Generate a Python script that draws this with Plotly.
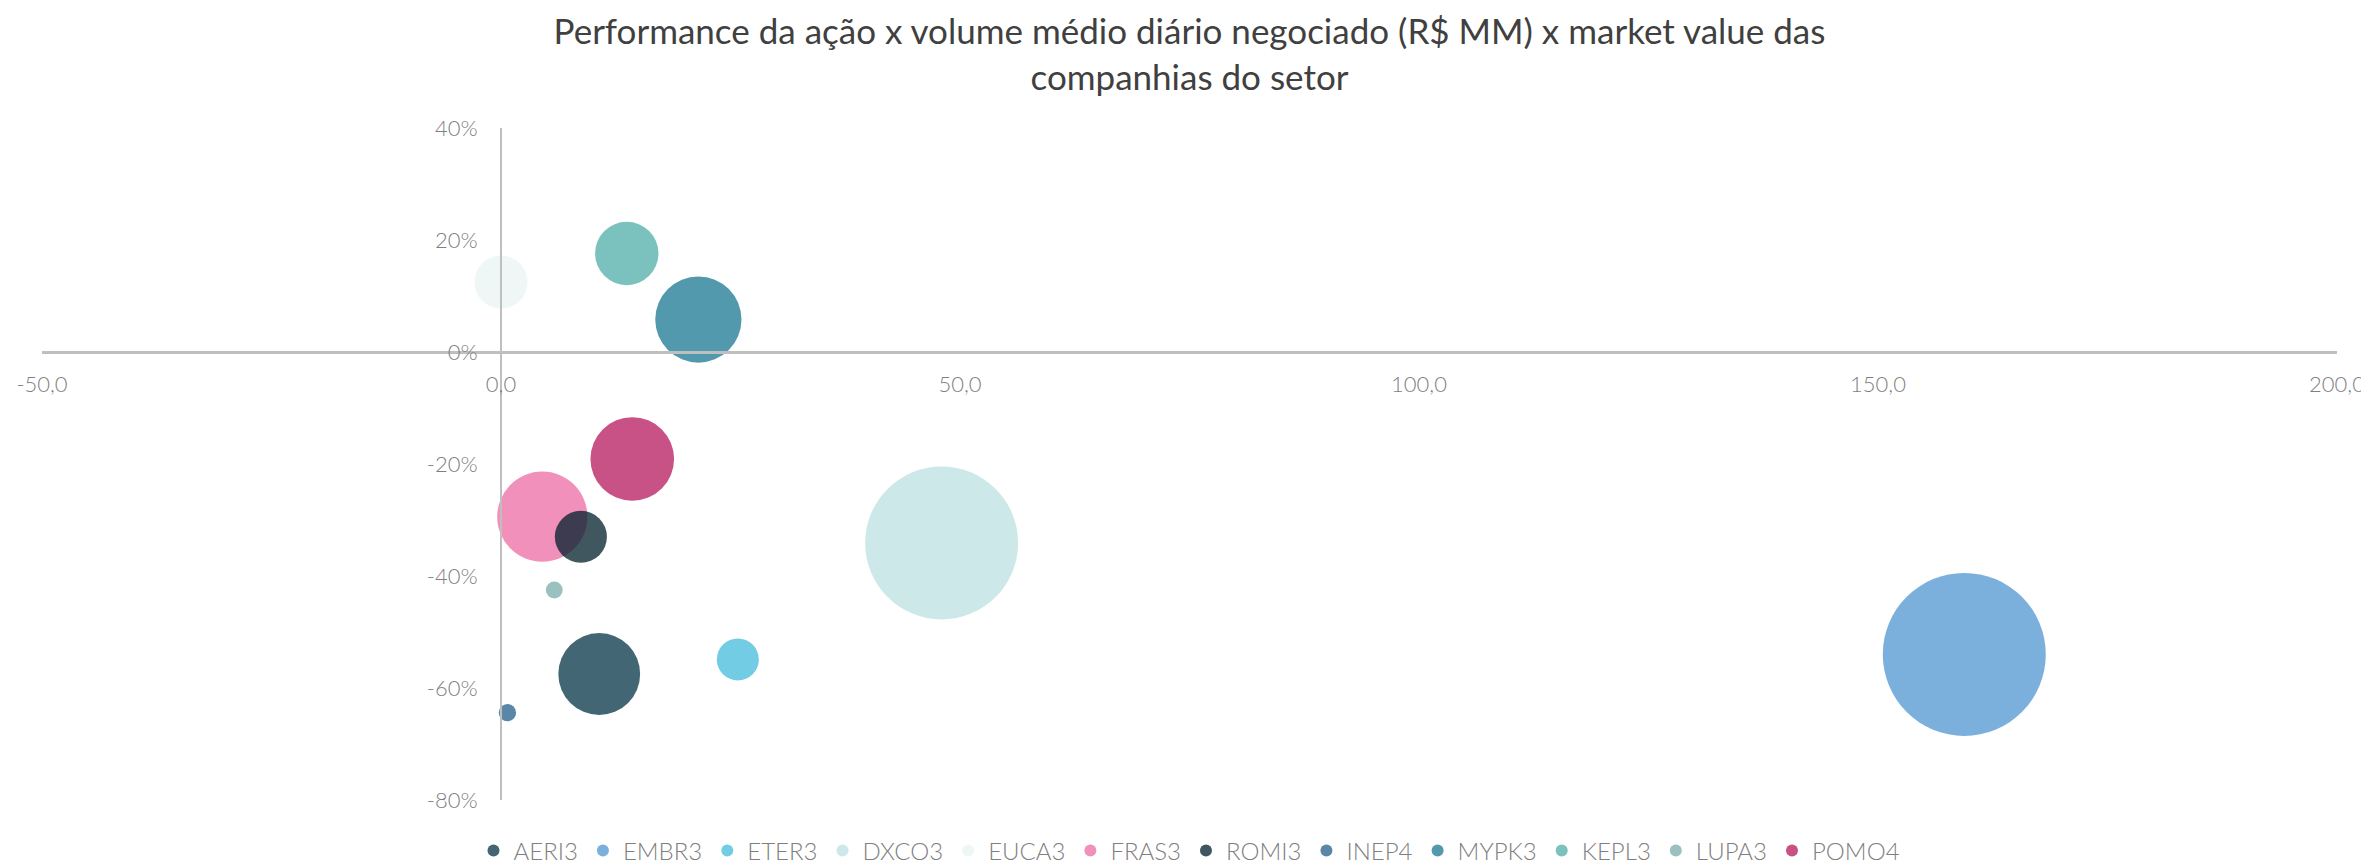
import plotly.graph_objects as go

# empresas (ordem da legenda)
tickers = ['AERI3', 'EMBR3', 'ETER3', 'DXCO3', 'EUCA3', 'FRAS3',
           'ROMI3', 'INEP4', 'MYPK3', 'KEPL3', 'LUPA3', 'POMO4']
# volume médio diário negociado (R$ MM)
volume = [10.7, 159.4, 25.8, 48.0, 0.0, 4.5, 8.7, 0.7, 21.5, 13.7, 5.8, 14.3]
# performance da ação
performance = [-0.575, -0.540, -0.549, -0.341, 0.125, -0.294,
               -0.330, -0.644, 0.058, 0.176, -0.425, -0.191]
# market value (R$ MM)
market_value = [3330, 13220, 880, 11640, 1400, 4050, 1350, 150, 3700, 2000, 140, 3480]

x_ticks = [-50, 0, 50, 100, 150, 200]
x_labels = ['-50,0', '0,0', '50,0', '100,0', '150,0', '200,0']
y_ticks = [-0.8, -0.6, -0.4, -0.2, 0, 0.2, 0.4]
y_labels = ['-80%', '-60%', '-40%', '-20%', '0%', '20%', '40%']

cores = ['rgb(3,51,70)', 'rgb(79,150,209)', 'rgb(67,188,219)', 'rgb(188,224,226)',
         'rgb(234,243,243)', 'rgb(235,107,164)', 'rgb(2,31,43)', 'rgb(35,94,139)',
         'rgb(26,119,146)', 'rgb(79,174,170)', 'rgb(120,171,171)', 'rgb(182,23,92)']

# maior bolha ~163 px de diâmetro
sizeref = 2 * max(market_value) / 163 ** 2

fig = go.Figure()
for i, t in enumerate(tickers):
    fig.add_trace(go.Scatter(
        x=[volume[i]], y=[performance[i]],
        mode='markers', name=t,
        marker=dict(size=[market_value[i]], sizemode='area', sizeref=sizeref,
                    color=cores[i], opacity=0.75, line=dict(width=0)),
    ))

cinza = '#7f7f7f'
fonte = 'Lato, Noto Sans, sans-serif'

# o body da página desloca a figura 8px, margens compensadas
fig.update_layout(
    width=2369, height=863,
    paper_bgcolor='white', plot_bgcolor='white',
    margin=dict(l=34, r=40, t=120, b=71, autoexpand=False),
    font=dict(family=fonte, color=cinza, size=22),
    title=dict(
        text='Performance da ação x volume médio diário negociado (R$ MM) x market value das<br>companhias do setor',
        font=dict(family=fonte, size=35, color='#404040'),
        x=0.5, xref='paper', xanchor='center',
        y=0.958, yref='container', yanchor='top',
    ),
    xaxis=dict(range=[-50, 200], tickvals=x_ticks, ticktext=x_labels,
               showgrid=False, zeroline=False, showline=True,
               linecolor='#bfbfbf', linewidth=2.5,
               anchor='free', position=80 / 120,
               ticks='', ticklabelstandoff=12,
               tickfont=dict(size=22, color=cinza, weight=300)),
    yaxis=dict(range=[-0.8, 0.4], tickvals=y_ticks, ticktext=y_labels,
               showgrid=False, zeroline=False, showline=True,
               linecolor='#bfbfbf', linewidth=2,
               anchor='free', position=50 / 250,
               ticks='', ticklabelstandoff=18,
               tickfont=dict(size=22, color=cinza, weight=300)),
    legend=dict(orientation='h', x=0.5, xanchor='center',
                y=-51 / 672, yanchor='middle',
                itemsizing='constant',
                font=dict(size=24, color=cinza, weight=300)),
)

fig.write_html('out.html')
